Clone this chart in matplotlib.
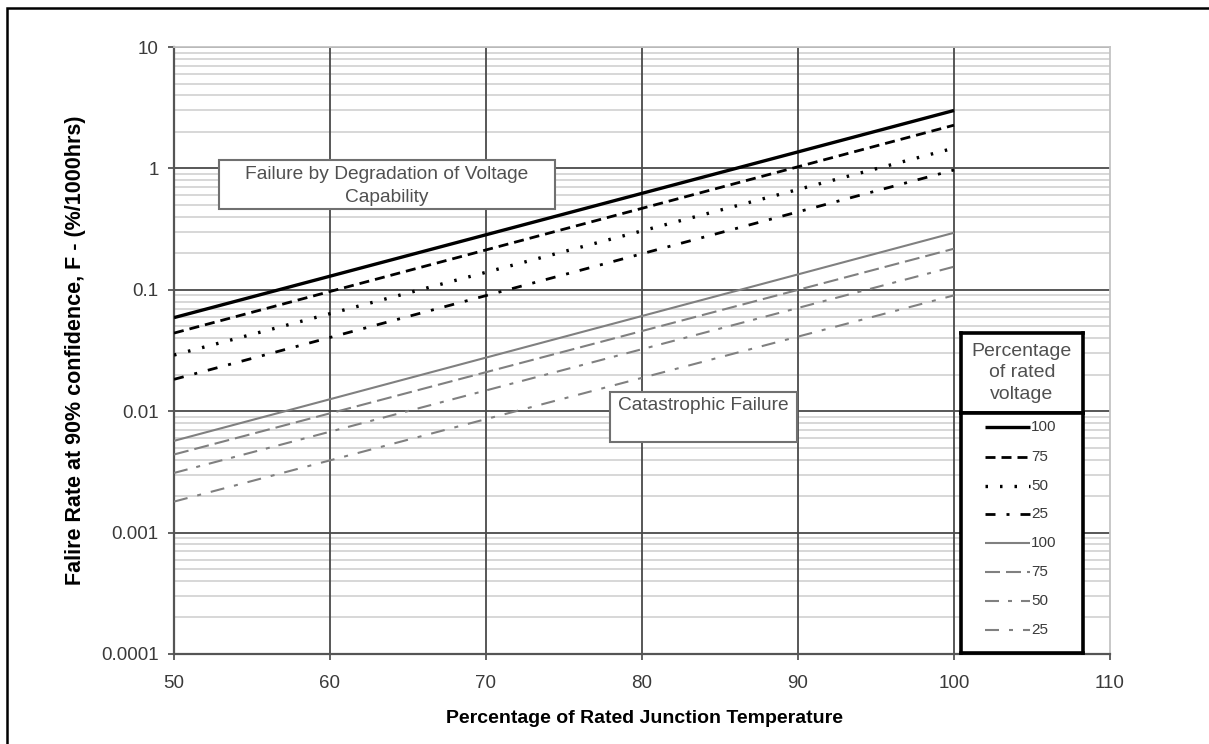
import numpy as np
import matplotlib
matplotlib.use("Agg")
import matplotlib.pyplot as plt
from matplotlib.patches import Rectangle
from matplotlib.ticker import LogLocator, FixedLocator, FixedFormatter, NullFormatter

plt.rcParams['font.family'] = ['Liberation Sans', 'DejaVu Sans']
plt.rcParams['lines.scale_dashes'] = False

# ---------------- data ----------------
temp_pct = [50, 100]
deg_100 = [0.059, 3.0]
deg_75 = [0.044, 2.27]
deg_50 = [0.029, 1.47]
deg_25 = [0.0183, 0.97]
cat_100 = [0.0057, 0.295]
cat_75 = [0.0044, 0.218]
cat_50 = [0.0031, 0.155]
cat_25 = [0.0018, 0.090]
series_labels = ['100', '75', '50', '25', '100', '75', '50', '25']
x_ticks = [50, 60, 70, 80, 90, 100, 110]
y_ticks = [0.0001, 0.001, 0.01, 0.1, 1, 10]
y_tick_labels = ['0.0001', '0.001', '0.01', '0.1', '1', '10']

W, H = 1209, 744
fig = plt.figure(figsize=(W / 100, H / 100), dpi=100)

def fx(px):
    return px / W

def fy(py):
    return 1 - py / H

L, R, T, B = 174, 1110, 47, 654
ax = fig.add_axes([fx(L), fy(B), (R - L) / W, (B - T) / H])

P = 1 / 1.389  # px -> pt
styles = [
    dict(color='black', lw=2.4, ls='-'),
    dict(color='black', lw=2.0, ls=(0, (10 * P, 6 * P))),
    dict(color='black', lw=2.4, ls=(0, (2.5 * P, 12 * P))),
    dict(color='black', lw=2.0, ls=(0, (10 * P, 11 * P, 3 * P, 11 * P))),
    dict(color='#808080', lw=1.5, ls='-'),
    dict(color='#808080', lw=1.5, ls=(0, (15 * P, 6 * P))),
    dict(color='#808080', lw=1.5, ls=(0, (14 * P, 9 * P, 4 * P, 9 * P))),
    dict(color='#808080', lw=1.5, ls=(0, (14 * P, 10 * P, 4 * P, 10 * P))),
]
series = [deg_100, deg_75, deg_50, deg_25, cat_100, cat_75, cat_50, cat_25]
for vals, st in zip(series, styles):
    ax.plot(temp_pct, vals, zorder=3, solid_capstyle='butt', dash_capstyle='butt', **st)

ax.set_yscale('log')
ax.set_xlim(50, 110)
ax.set_ylim(1e-4, 10)
ax.xaxis.set_major_locator(FixedLocator(x_ticks))
ax.yaxis.set_major_locator(FixedLocator(y_ticks))
ax.yaxis.set_major_formatter(FixedFormatter(y_tick_labels))
ax.yaxis.set_minor_locator(LogLocator(base=10, subs=np.arange(2, 10), numticks=100))
ax.yaxis.set_minor_formatter(NullFormatter())

# gridlines: light minor horizontals, dark major horizontals and verticals on top
ax.grid(which='minor', axis='y', color='#d4d4d4', lw=1.3)
ax.grid(which='major', axis='y', color='#4a4a4a', lw=1.3)
ax.set_axisbelow(True)
for xv in x_ticks[1:-1]:
    ax.axvline(xv, color='#4a4a4a', lw=1.3, zorder=1)

for s in ['left', 'bottom']:
    ax.spines[s].set_color('#555555')
    ax.spines[s].set_linewidth(1.6)
for s in ['top', 'right']:
    ax.spines[s].set_color('#c4c4c4')
    ax.spines[s].set_linewidth(1.3)

ax.tick_params(which='major', direction='out', length=4, width=1.3, color='#555555',
               labelsize=13.5, labelcolor='#3a3a3a', pad=7)
ax.tick_params(axis='x', pad=11)
ax.tick_params(which='minor', length=0)

ax.set_xlabel('Percentage of Rated Junction Temperature', fontsize=14, fontweight='bold')
ax.set_ylabel('Falire Rate at 90% confidence, F - (%/1000hrs)', fontsize=15.5, fontweight='bold')
ax.xaxis.set_label_coords((645 - L) / (R - L), -(710 - B) / (B - T))
ax.yaxis.set_label_coords(-(L - 86) / (R - L), 0.5)

# text boxes
def ax_frac(px, py):
    return (px - L) / (R - L), (B - py) / (B - T)

def text_box(x0, y0, x1, y1, txt, tx, ty):
    a0 = ax_frac(x0, y1)
    a1 = ax_frac(x1, y0)
    ax.add_patch(Rectangle(a0, a1[0] - a0[0], a1[1] - a0[1], transform=ax.transAxes,
                           facecolor='white', edgecolor='#707070', lw=1.5, zorder=5))
    c = ax_frac(tx, ty)
    ax.text(c[0], c[1], txt, transform=ax.transAxes, ha='center', va='center',
            fontsize=13.8, color='#505050', zorder=6, linespacing=1.45)

text_box(219, 160, 555, 209, 'Failure by Degradation of Voltage\nCapability', 387, 186)
text_box(610, 392, 797, 442, 'Catastrophic Failure', 703, 405)

# legend
LX0, LX1 = 961, 1083
HY0, HY1, LY1 = 333, 413, 653
hax = fig.add_axes([fx(LX0), fy(HY1), (LX1 - LX0) / W, (HY1 - HY0) / H])
hax.set_xticks([]); hax.set_yticks([])
for s in hax.spines.values():
    s.set_linewidth(2.6); s.set_color('black')
hax.text(0.5, 0.5, 'Percentage\nof rated\nvoltage', transform=hax.transAxes, ha='center',
         va='center', fontsize=14, color='#505050', linespacing=1.38)

lax = fig.add_axes([fx(LX0), fy(LY1), (LX1 - LX0) / W, (LY1 - HY1) / H])
lax.set_xticks([]); lax.set_yticks([])
lax.set_xlim(LX0, LX1)
lax.set_ylim(LY1, HY1)
for s in lax.spines.values():
    s.set_linewidth(2.6); s.set_color('black')
entry_y = [427, 457, 486, 514, 543, 572, 601, 630]
for ey, st, lab in zip(entry_y, styles, series_labels):
    lax.plot([985, 1030], [ey, ey], solid_capstyle='butt', dash_capstyle='butt', **st)
    lax.text(1031, ey, lab, ha='left', va='center', fontsize=11, color='#3a3a3a')

# outer frame
fig.add_artist(Rectangle((fx(7), -0.1), 1.2, fy(8) + 0.1, transform=fig.transFigure,
                         facecolor='none', edgecolor='black', lw=1.8))

fig.savefig('out.png', dpi=100)
